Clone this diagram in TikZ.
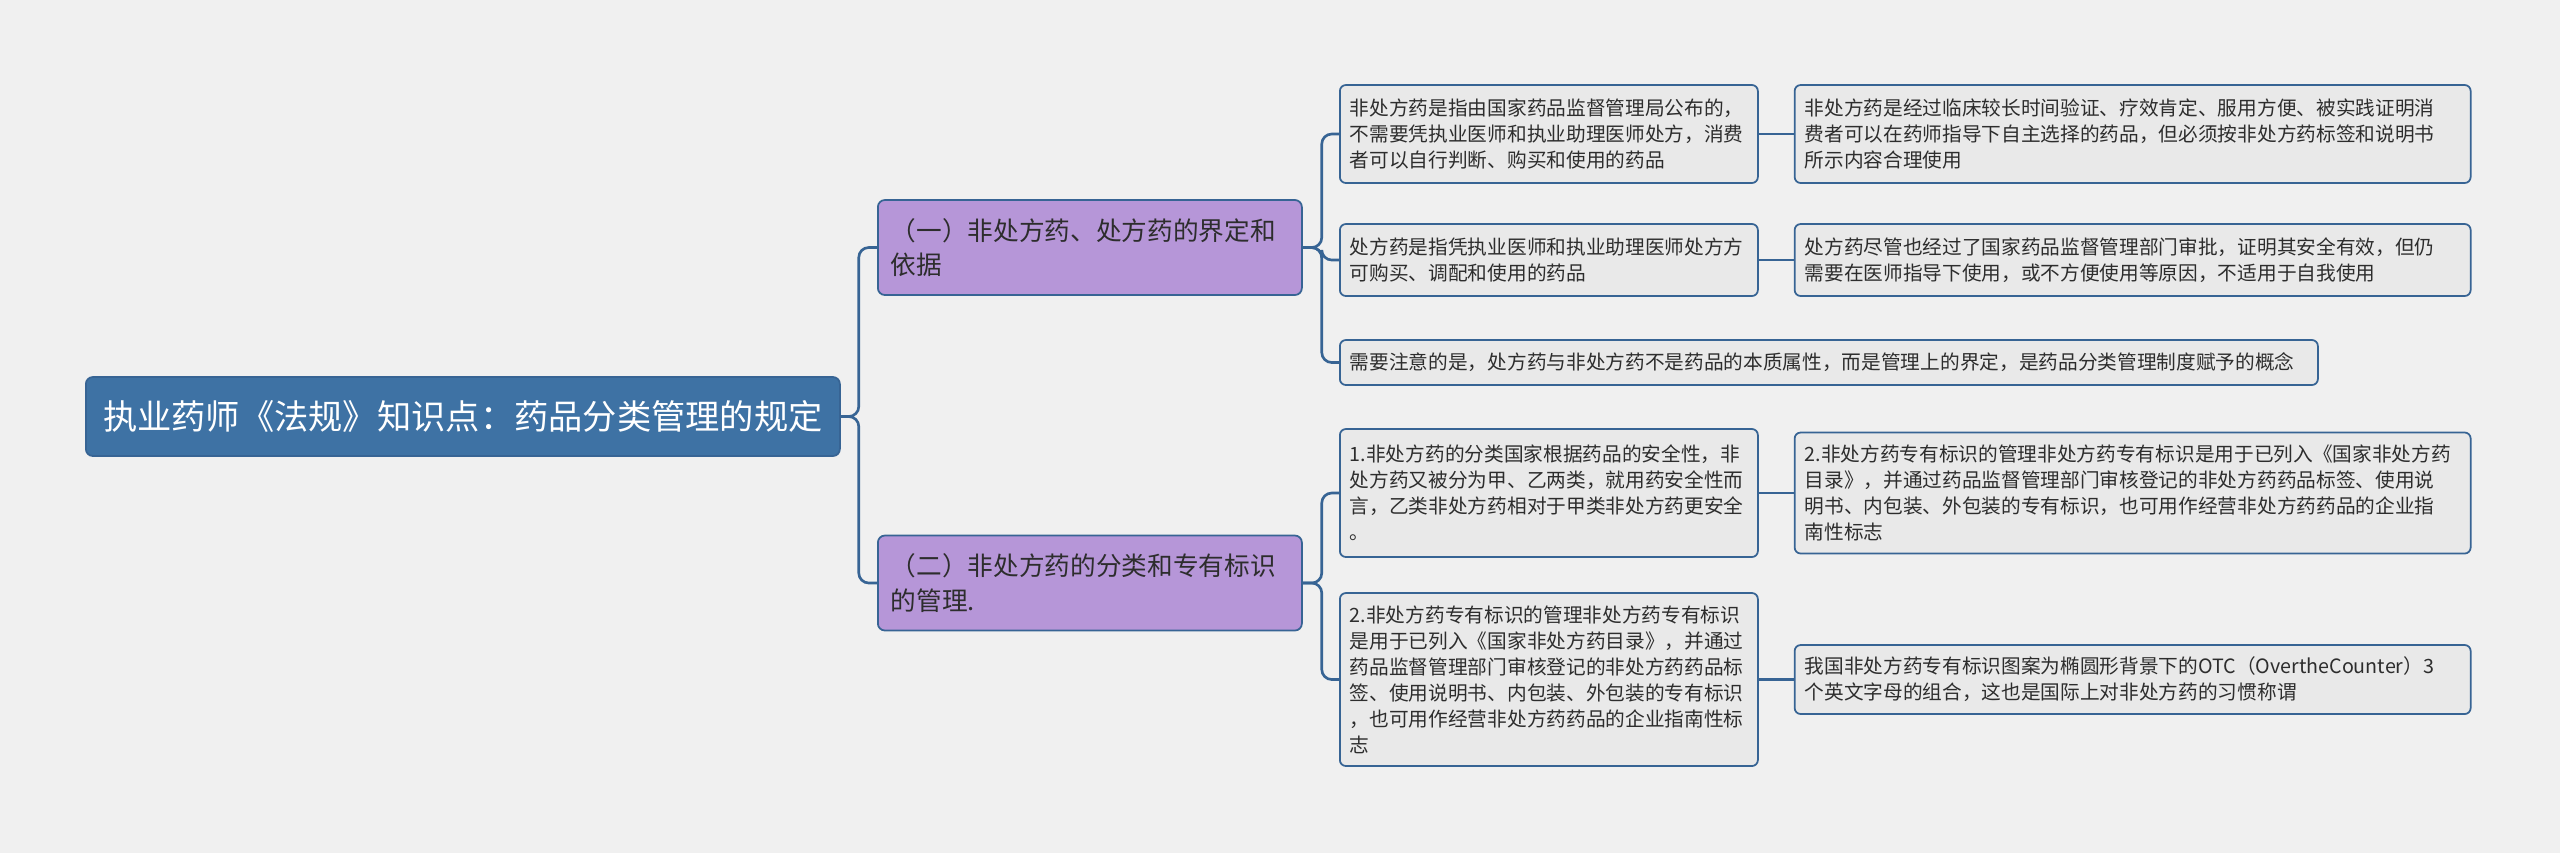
\documentclass[tikz,border=0pt]{standalone}
\usepackage{fontspec}
\setmainfont{Noto Sans CJK SC}
\usetikzlibrary{positioning}

\definecolor{bgcol}{RGB}{240,240,240}
\definecolor{rootcol}{RGB}{62,114,164}
\definecolor{topiccol}{RGB}{182,150,216}
\definecolor{leafcol}{RGB}{233,233,233}
\definecolor{edgecol}{RGB}{55,100,148}
\definecolor{txtcol}{RGB}{45,45,45}

\begin{document}
\begin{tikzpicture}[node distance=0.35cm,
                    rootbox/.style={draw=edgecol, line width=0.5pt, rounded corners=0.07cm, fill=rootcol,
                            text=white, font={\fontsize{9.75}{12}\selectfont}, anchor=west,
                            minimum width=7.54cm, minimum height=0.79cm},
                    topicbox/.style={draw=edgecol, line width=0.5pt, rounded corners=0.07cm, fill=topiccol,
                            text=txtcol, font={\fontsize{7.3}{9.7}\selectfont}, align=left, anchor=west,
                            text width=3.98cm, inner xsep=0.13cm, minimum height=0.95cm},
                    leafbox/.style={draw=edgecol, line width=0.5pt, rounded corners=0.06cm, fill=leafcol,
                            text=txtcol, font={\fontsize{5.6}{7.4}\selectfont}, align=left,
                            inner xsep=0.1cm, inner ysep=0.08cm},
                    narrow/.style={leafbox, anchor=west, text width=3.98cm},
                    wide/.style={leafbox, text width=6.56cm},
                    link/.style={draw=edgecol, line width=0.75pt, rounded corners=0.1cm}]
  % background and page size
  \fill[bgcol] (0,0) rectangle (25.6,-8.53);
  \useasboundingbox (0,0) rectangle (25.6,-8.53);

  \node[rootbox] (root) at (0.85,-4.165) {执业药师《法规》知识点：药品分类管理的规定};

  \node[topicbox] (def) at (8.77,-2.475) {（一）非处方药、处方药的界定和\\依据};
  \node[topicbox] (mark) at (8.77,-5.83) {（二）非处方药的分类和专有标识\\的管理.};

  % first topic
  \node[narrow, minimum height=0.98cm] (otc) at (13.39,-1.34)
       {非处方药是指由国家药品监督管理局公布的，\\不需要凭执业医师和执业助理医师处方，消费\\者可以自行判断、购买和使用的药品};
  \node[wide, minimum height=0.98cm, right=of otc] (otcnote)
       {非处方药是经过临床较长时间验证、疗效肯定、服用方便、被实践证明消\\费者可以在药师指导下自主选择的药品，但必须按非处方药标签和说明书\\所示内容合理使用};
  \node[narrow, minimum height=0.72cm] (rx) at (13.39,-2.60)
       {处方药是指凭执业医师和执业助理医师处方方\\可购买、调配和使用的药品};
  \node[wide, minimum height=0.72cm, right=of rx] (rxnote)
       {处方药尽管也经过了国家药品监督管理部门审批，证明其安全有效，但仍\\需要在医师指导下使用，或不方便使用等原因，不适用于自我使用};
  \node[leafbox, anchor=west, text width=9.58cm, minimum height=0.45cm] (concept) at (13.39,-3.625)
       {需要注意的是，处方药与非处方药不是药品的本质属性，而是管理上的界定，是药品分类管理制度赋予的概念};

  % second topic
  \node[narrow, minimum height=1.28cm] (kind) at (13.39,-4.93)
       {1.非处方药的分类国家根据药品的安全性，非\\处方药又被分为甲、乙两类，就用药安全性而\\言，乙类非处方药相对于甲类非处方药更安全\\。};
  \node[wide, minimum height=1.21cm, right=of kind] (kindnote)
       {2.非处方药专有标识的管理非处方药专有标识是用于已列入《国家非处方药\\目录》，并通过药品监督管理部门审核登记的非处方药药品标签、使用说\\明书、内包装、外包装的专有标识，也可用作经营非处方药药品的企业指\\南性标志};
  \node[narrow, minimum height=1.73cm] (logo) at (13.39,-6.795)
       {2.非处方药专有标识的管理非处方药专有标识\\是用于已列入《国家非处方药目录》，并通过\\药品监督管理部门审核登记的非处方药药品标\\签、使用说明书、内包装、外包装的专有标识\\，也可用作经营非处方药药品的企业指南性标\\志};
  \node[wide, minimum height=0.69cm, right=of logo] (logonote)
       {我国非处方药专有标识图案为椭圆形背景下的OTC（OvertheCounter）3\\个英文字母的组合，这也是国际上对非处方药的习惯称谓};

  % connectors
  \draw[link] (root.east) -- ++(0.18,0) |- (def.west);
  \draw[link] (root.east) -- ++(0.18,0) |- (mark.west);
  \foreach \leaf in {otc, rx, concept}
    \draw[link] (def.east) -- ++(0.19,0) |- (\leaf.west);
  \foreach \leaf in {kind, logo}
    \draw[link] (mark.east) -- ++(0.19,0) |- (\leaf.west);
  \draw[link] (otc) -- (otcnote);
  \draw[link] (rx) -- (rxnote);
  \draw[link] (kind) -- (kindnote);
  \draw[link] (logo) -- (logonote);
\end{tikzpicture}
\end{document}
